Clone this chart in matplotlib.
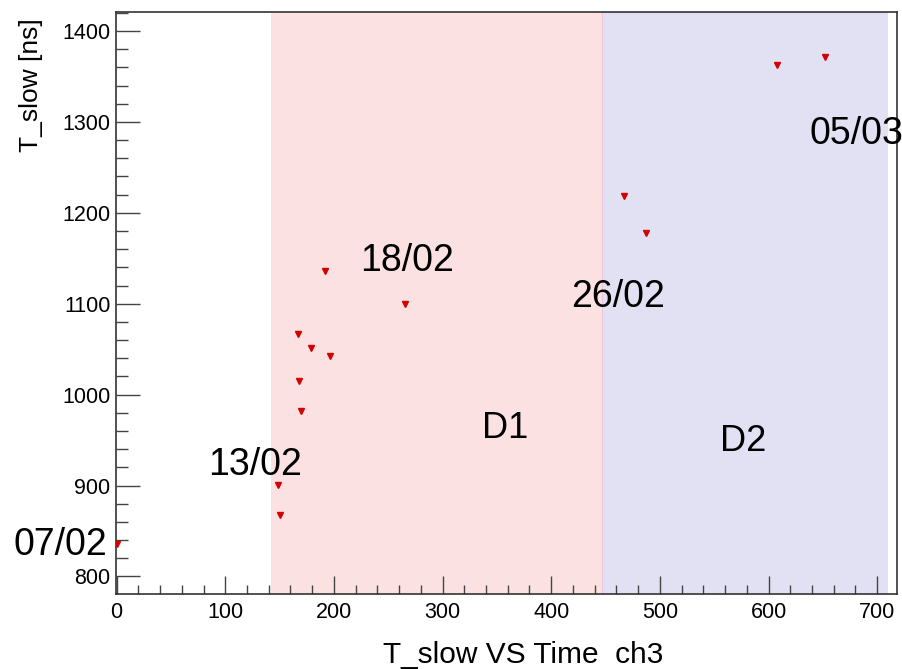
import matplotlib
matplotlib.use("Agg")
import matplotlib.pyplot as plt
from matplotlib.ticker import MultipleLocator

plt.rcParams['font.family'] = ['Liberation Sans', 'DejaVu Sans']

# measurement days (x) and T_slow (y)
time_x = [0, 149, 150, 167, 168, 170, 179, 192, 196, 265, 467, 487, 608, 652]
tslow = [836, 901, 868, 1067, 1015, 982, 1051, 1136, 1043, 1100, 1219, 1178, 1363, 1371]

# periods D1 / D2
d1_range = (142, 447)
d2_range = (447, 710)

# date labels (x, baseline y)
date_labels = ["07/02", "13/02", "18/02", "26/02", "05/03"]
date_x = [-95, 84.5, 224, 418, 638]
date_y = [823, 912, 1136, 1096, 1276]

fig = plt.figure(figsize=(9.03, 6.69), dpi=100)
ax = fig.add_axes([0.1285, 0.1126, 0.8646, 0.8695])

ax.axvspan(*d1_range, color='#fbe1e1', lw=0, zorder=0)
ax.axvspan(*d2_range, color='#e2e1f4', lw=0, zorder=0)
ax.axvline(d1_range[1], color='#e8c8dc', lw=0.8, zorder=0.5)

ax.plot(time_x, tslow, 'v', color='#d40000', ms=5, mec='#d40000', zorder=3)

for lab, x, y in zip(date_labels, date_x, date_y):
    ax.text(x, y, lab, fontsize=27, ha='left', va='baseline', color='black')
ax.text(336, 952, "D1", fontsize=26, ha='left', va='baseline')
ax.text(555.5, 938, "D2", fontsize=26, ha='left', va='baseline')

ax.set_xlim(-0.5, 718)
ax.set_ylim(781, 1421)

ax.xaxis.set_major_locator(MultipleLocator(100))
ax.xaxis.set_minor_locator(MultipleLocator(20))
ax.yaxis.set_major_locator(MultipleLocator(100))
ax.yaxis.set_minor_locator(MultipleLocator(20))

ax.tick_params(axis='both', which='both', direction='in', color='#444444',
               top=False, right=False, labelsize=15.5)
ax.tick_params(axis='x', which='major', length=13, width=1, pad=6)
ax.tick_params(axis='x', which='minor', length=6.5, width=1)
ax.tick_params(axis='y', which='major', length=17, width=1, pad=4)
ax.tick_params(axis='y', which='minor', length=8.5, width=1)

for s in ax.spines.values():
    s.set_color('#333333')
    s.set_linewidth(1.2)

ax.set_xlabel("T_slow VS Time  ch3", fontsize=21.5, ha='left', va='baseline')
ax.xaxis.set_label_coords(0.342, -0.119)
ylab = ax.set_ylabel("T_slow [ns]", fontsize=19)
ylab.set_rotation_mode('anchor')
ylab.set_ha('right')
ylab.set_va('top')
ax.yaxis.set_label_coords(-0.124, 0.99)

fig.savefig("out.png", dpi=100)
